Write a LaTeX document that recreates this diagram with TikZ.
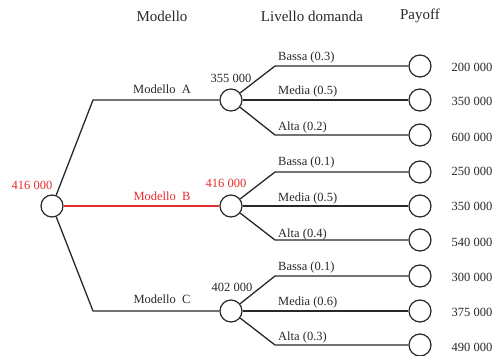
\documentclass[tikz,border=0pt]{standalone}
\usepackage{fontspec}
\setmainfont{Liberation Serif}
\definecolor{myred}{RGB}{228,45,45}
\definecolor{ink}{RGB}{40,40,40}
\begin{document}
\begin{tikzpicture}[x=1pt,y=-1pt,
  circ/.style={draw=ink,circle,minimum size=22pt,inner sep=0pt,line width=1.2pt,fill=white},
  edge/.style={draw=ink,line width=1.3pt,line join=round},
  hdr/.style={font=\fontsize{15}{17}\selectfont,inner sep=0pt,text=ink},
  lbl/.style={font=\fontsize{12.5}{14}\selectfont,inner sep=0pt,text=ink},
]
\useasboundingbox (0,0) rectangle (493,356);
% headers
\node[hdr] (h1) at (162,16) {Modello};
\node[hdr] (h2) at (312,16) {Livello domanda};
\node[hdr] (h3) at (420,16) {Payoff};
% decision and chance nodes
\node[circ] (r) at (52,206) {};
\node[circ] (A) at (231,100) {};
\node[circ] (B) at (231,206) {};
\node[circ] (C) at (231,311) {};
% payoff nodes
\foreach \n/\y in {1/66,2/100,3/135,4/172,5/206,6/240,7/276,8/311,9/345}
  \node[circ] (p\n) at (420,\y) {};
% bend points
\coordinate (bA) at (93,100);
\coordinate (bC) at (93,311);
\coordinate (b1) at (275,66);
\coordinate (b3) at (275,135);
\coordinate (b4) at (275,172);
\coordinate (b6) at (275,240);
\coordinate (b7) at (275,276);
\coordinate (b9) at (275,345);
% connectors
\draw[edge] (r) -- (bA) -- (A);
\draw[edge,draw=myred] (r) -- (B);
\draw[edge] (r) -- (bC) -- (C);
\draw[edge] (A) -- (b1) -- (p1);
\draw[edge] (A) -- (p2);
\draw[edge] (A) -- (b3) -- (p3);
\draw[edge] (B) -- (b4) -- (p4);
\draw[edge] (B) -- (p5);
\draw[edge] (B) -- (b6) -- (p6);
\draw[edge] (C) -- (b7) -- (p7);
\draw[edge] (C) -- (p8);
\draw[edge] (C) -- (b9) -- (p9);
% values
\node[lbl,text=myred] (vr) at (32,185) {416 000};
\node[lbl] (vA) at (231,78) {355 000};
\node[lbl,text=myred] (vB) at (226,183) {416 000};
\node[lbl] (vC) at (232,287) {402 000};
% branch labels
\node[lbl] (lA) at (162,89) {Modello\ \ A};
\node[lbl,text=myred] (lB) at (162,196) {Modello\ \ B};
\node[lbl] (lC) at (162,299) {Modello\ \ C};
\node[lbl,anchor=west] (l1) at (278,57) {Bassa (0.3)};
\node[lbl,anchor=west] (l2) at (278,91) {Media (0.5)};
\node[lbl,anchor=west] (l3) at (278,127) {Alta (0.2)};
\node[lbl,anchor=west] (l4) at (278,162) {Bassa (0.1)};
\node[lbl,anchor=west] (l5) at (278,198) {Media (0.5)};
\node[lbl,anchor=west] (l6) at (278,234) {Alta (0.4)};
\node[lbl,anchor=west] (l7) at (278,267) {Bassa (0.1)};
\node[lbl,anchor=west] (l8) at (278,302) {Media (0.6)};
\node[lbl,anchor=west] (l9) at (278,337) {Alta (0.3)};
% payoffs
\node[lbl] (v1) at (472,67) {200 000};
\node[lbl] (v2) at (472,101) {350 000};
\node[lbl] (v3) at (472,137) {600 000};
\node[lbl] (v4) at (472,171) {250 000};
\node[lbl] (v5) at (472,206) {350 000};
\node[lbl] (v6) at (472,242) {540 000};
\node[lbl] (v7) at (472,277) {300 000};
\node[lbl] (v8) at (472,312) {375 000};
\node[lbl] (v9) at (472,347) {490 000};
\end{tikzpicture}
\end{document}
